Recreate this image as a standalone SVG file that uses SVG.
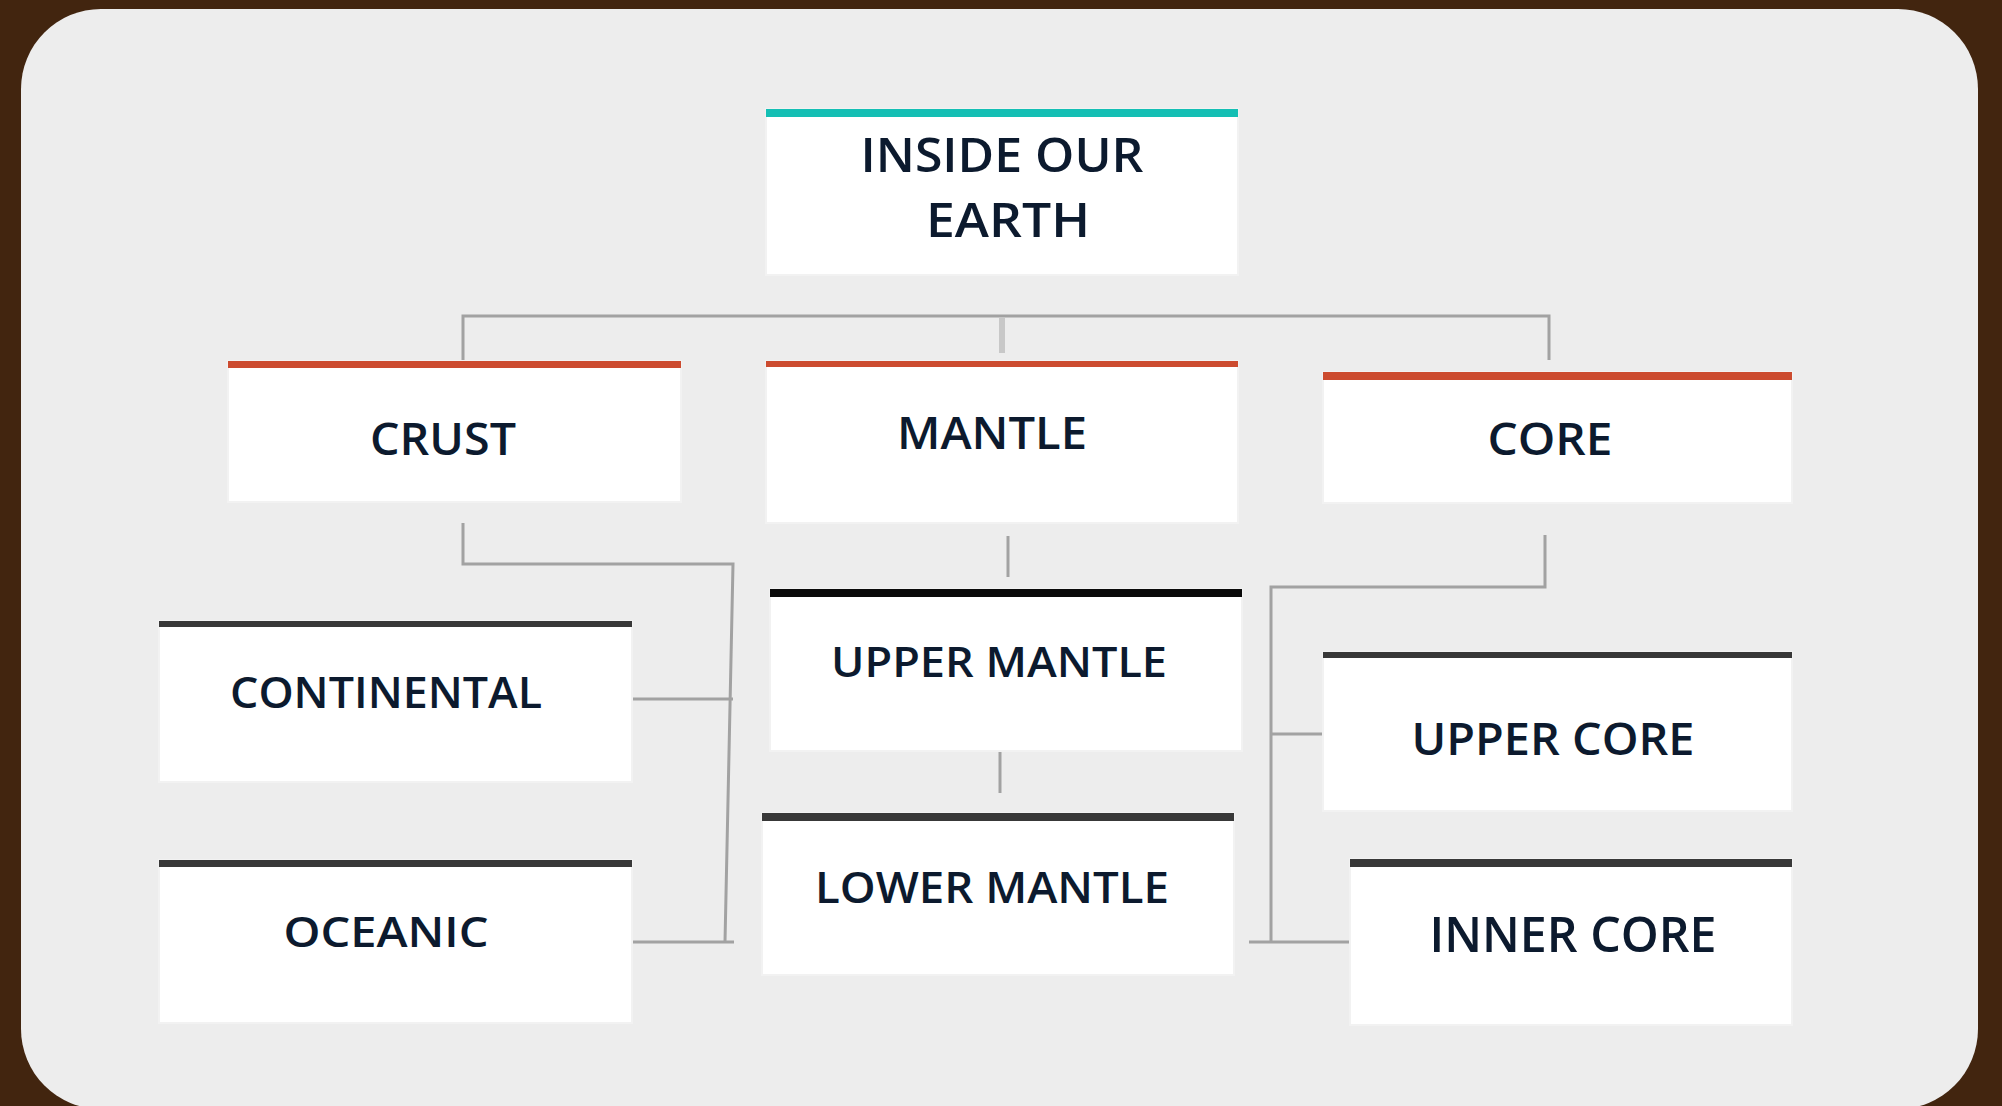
<svg xmlns="http://www.w3.org/2000/svg" width="2002" height="1106" viewBox="0 0 2002 1106">
<style>
.box{fill:#ffffff;stroke:#f2f2f2;stroke-width:2}
.lbl{font-family:"Open Sans","Liberation Sans",sans-serif;font-weight:600;fill:#0c1a2e;text-anchor:middle}
.con{fill:none;stroke:#a2a2a2;stroke-width:3}
.red{fill:#cc4b2f}
.teal{fill:#14bfb4}
.dark{fill:#383838}
</style>
<rect x="0" y="0" width="2002" height="1106" fill="#42250f"/>
<rect x="21" y="9" width="1957" height="1100" rx="80" ry="80" fill="#ededed"/>
<g id="connectors">
<path class="con" d="M463 360 V316 H1549 V360"/>
<path d="M1002 318 V353" fill="none" stroke="#c8c8c8" stroke-width="6"/>
<path class="con" d="M463 523 V564 H733 L725 942"/>
<path class="con" d="M631 699 H733"/>
<path class="con" d="M631 942 H734" stroke="#b4b4b4"/>
<path class="con" d="M1008 536 V577"/>
<path class="con" d="M1000 752 V793" stroke="#999"/>
<path class="con" d="M1545 535 V587 H1271 V942"/>
<path class="con" d="M1271 734 H1323"/>
<path class="con" d="M1249 942 H1350" stroke="#b4b4b4"/>
</g>
<g id="root">
<rect class="box" x="766" y="109" width="472" height="166"/>
<rect class="teal" x="766" y="109" width="472" height="8"/>
<text class="lbl" x="1002" y="172" font-size="47" textLength="283" lengthAdjust="spacingAndGlyphs">INSIDE OUR</text>
<text class="lbl" x="1008" y="237" font-size="47" textLength="164" lengthAdjust="spacingAndGlyphs">EARTH</text>
</g>
<g id="crust">
<rect class="box" x="228" y="361" width="453" height="141"/>
<rect class="red" x="228" y="361" width="453" height="7"/>
<text class="lbl" x="443" y="455" font-size="46" textLength="146" lengthAdjust="spacingAndGlyphs">CRUST</text>
</g>
<g id="mantle">
<rect class="box" x="766" y="361" width="472" height="162"/>
<rect class="red" x="766" y="361" width="472" height="6"/>
<text class="lbl" x="992" y="449" font-size="46" textLength="190" lengthAdjust="spacingAndGlyphs">MANTLE</text>
</g>
<g id="core">
<rect class="box" x="1323" y="372" width="469" height="131"/>
<rect class="red" x="1323" y="372" width="469" height="8"/>
<text class="lbl" x="1550" y="455" font-size="45" textLength="125" lengthAdjust="spacingAndGlyphs">CORE</text>
</g>
<g id="continental">
<rect class="box" x="159" y="621" width="473" height="161"/>
<rect class="dark" x="159" y="621" width="473" height="6"/>
<text class="lbl" x="386" y="708" font-size="43" textLength="312" lengthAdjust="spacingAndGlyphs">CONTINENTAL</text>
</g>
<g id="oceanic">
<rect class="box" x="159" y="860" width="473" height="163"/>
<rect class="dark" x="159" y="860" width="473" height="7"/>
<text class="lbl" x="386" y="947" font-size="42" textLength="205" lengthAdjust="spacingAndGlyphs">OCEANIC</text>
</g>
<g id="upper-mantle">
<rect class="box" x="770" y="589" width="472" height="162"/>
<rect x="770" y="589" width="472" height="8" fill="#0a0a0a"/>
<text class="lbl" x="999" y="677" font-size="42" textLength="336" lengthAdjust="spacingAndGlyphs">UPPER MANTLE</text>
</g>
<g id="lower-mantle">
<rect class="box" x="762" y="813" width="472" height="162"/>
<rect class="dark" x="762" y="813" width="472" height="8"/>
<text class="lbl" x="992" y="903" font-size="43" textLength="354" lengthAdjust="spacingAndGlyphs">LOWER MANTLE</text>
</g>
<g id="upper-core">
<rect class="box" x="1323" y="652" width="469" height="159"/>
<rect class="dark" x="1323" y="652" width="469" height="6"/>
<text class="lbl" x="1553" y="755" font-size="45" textLength="283" lengthAdjust="spacingAndGlyphs">UPPER CORE</text>
</g>
<g id="inner-core">
<rect class="box" x="1350" y="859" width="442" height="166"/>
<rect class="dark" x="1350" y="859" width="442" height="8"/>
<text class="lbl" x="1573" y="952" font-size="49" textLength="287" lengthAdjust="spacingAndGlyphs">INNER CORE</text>
</g>
</svg>
